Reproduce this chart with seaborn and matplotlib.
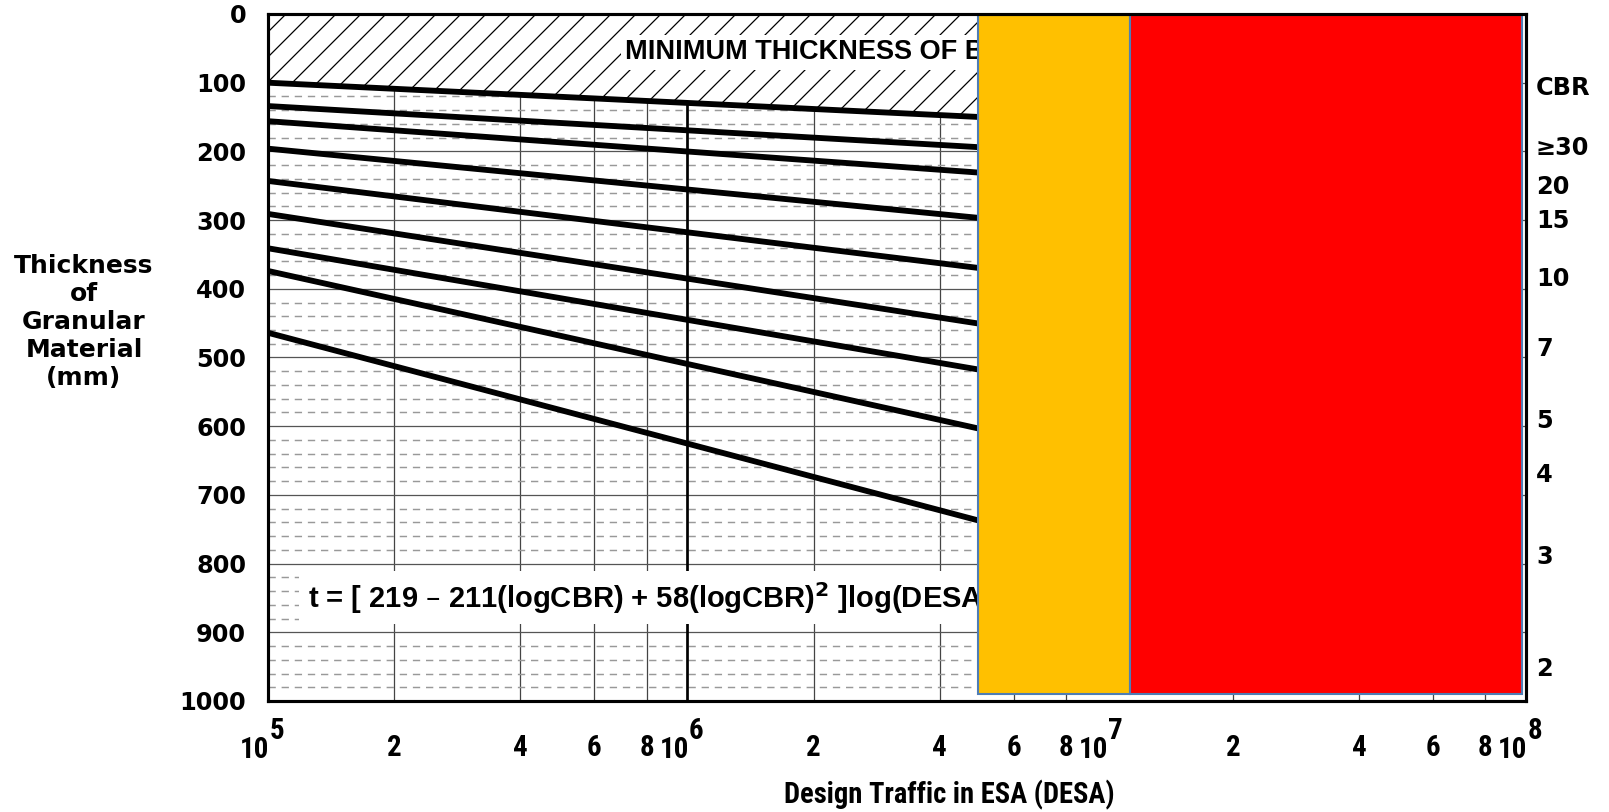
import numpy as np
import pandas as pd
import matplotlib
matplotlib.use("Agg")
import matplotlib.pyplot as plt
import matplotlib.transforms as mtransforms
from matplotlib import font_manager as fm
from matplotlib.ticker import MultipleLocator, FixedLocator, NullFormatter, FixedFormatter
from matplotlib.patches import Rectangle
import seaborn as sns

# ---------------- data ----------------
desa_ends = [1e5, 5e6]                       # DESA at the left edge and at the coloured overlay
cbr_values = ["≥30", "20", "15", "10", "7", "5", "4", "3", "2"]
t_at_start = [100, 134, 156, 196, 243, 291, 341, 374, 464]   # thickness (mm) at DESA = 1e5
t_at_end = [150, 194, 231, 297, 370, 451, 518, 604, 738]      # thickness (mm) at DESA = 5e6
cbr_label_pos = [195, 252, 301, 386, 488, 592, 671, 790, 953]  # right-hand CBR label positions (mm)
cbr_title_pos = 108
y_ticks = list(range(0, 1001, 100))
x_decades = [1e5, 1e6, 1e7, 1e8]
x_decade_exp = ["5", "6", "7", "8"]
x_minor = [2e5, 4e5, 6e5, 8e5, 2e6, 4e6, 6e6, 8e6, 2e7, 4e7, 6e7, 8e7]
x_minor_labels = ["2", "4", "6", "8"] * 3
orange_span = (4.94e6, 1.137e7)
red_span = (1.137e7, 9.76e7)
overlay_y = (2, 990)
min_text_pos = (7.1e5, 56)
eq_text_pos = (1.246e5, 864)

# ---------------- style ----------------
sns.set_theme(style="white")
plt.rcParams["font.family"] = ["Liberation Sans", "DejaVu Sans"]
plt.rcParams["hatch.linewidth"] = 0.6
for key in ["text.color", "axes.labelcolor", "xtick.color", "ytick.color"]:
    plt.rcParams[key] = "black"

# pick a condensed bold face for the x axis texts if one is installed
cond_prop = None
for fam in ["Liberation Sans Narrow", "Roboto Condensed", "Open Sans Condensed", "DejaVu Sans"]:
    try:
        fp = fm.FontProperties(family=fam, weight="bold",
                               stretch="condensed" if fam == "DejaVu Sans" else "normal")
        path = fm.findfont(fp, fallback_to_default=False)
        if fam == "DejaVu Sans" and "Condensed" not in path:
            continue
        cond_prop = fm.FontProperties(fname=path)
        break
    except Exception:
        continue

DPI = 150
fig = plt.figure(figsize=(1609 / DPI, 812 / DPI), dpi=DPI)
L, R, T, B = 268, 1526, 14, 701
ax = fig.add_axes([L / 1609, 1 - B / 812, (R - L) / 1609, (B - T) / 812])
ax.set_xscale("log")

df = pd.DataFrame({
    "DESA": np.concatenate([desa_ends for _ in cbr_values]),
    "t": np.ravel(np.column_stack([t_at_start, t_at_end])),
    "CBR": np.repeat(cbr_values, 2),
})
sns.lineplot(data=df, x="DESA", y="t", units="CBR", estimator=None, color="black",
             linewidth=2.8, ax=ax, legend=False, zorder=4)

# hatched zone above minimum line
top = df[df["CBR"] == cbr_values[0]]
ax.fill_between(top["DESA"], 0, top["t"], facecolor="white", edgecolor="black",
                hatch="//", linewidth=0, zorder=1)

ax.set_xlim(1e5, 1e8)
ax.set_ylim(1000, 0)

# grid
ax.yaxis.set_major_locator(FixedLocator(y_ticks))
ax.yaxis.set_minor_locator(MultipleLocator(20))
ax.grid(which="major", axis="y", color="#555555", lw=0.6, zorder=0.5)
ax.grid(which="minor", axis="y", color="#999999", lw=0.7, ls=(0, (5, 4)), zorder=0.4)
ax.xaxis.set_major_locator(FixedLocator(x_decades))
ax.xaxis.set_minor_locator(FixedLocator(x_minor))
ax.grid(which="minor", axis="x", color="#444444", lw=0.6, zorder=0.5)
ax.axvline(1e6, color="black", lw=1.3, zorder=0.6)
ax.set_axisbelow(True)

# ticks / labels
ax.tick_params(axis="both", which="both", length=0, colors="black")
ax.set_yticks(y_ticks)
ax.set_yticklabels([str(v) for v in y_ticks], family="DejaVu Sans", fontweight="bold", fontsize=11.5)
ax.tick_params(axis="y", pad=10.5)

if cond_prop is not None:
    def xfont(size):
        p = cond_prop.copy()
        p.set_size(size)
        return p
    xsz, xlab_sz, xoff = 13.9, 13.7, 0.004
else:
    def xfont(size):
        return fm.FontProperties(family="Liberation Sans", weight="bold", size=size)
    xsz, xlab_sz, xoff = 12.3, 12.2, 0.006

ax.xaxis.set_major_formatter(NullFormatter())
ax.xaxis.set_minor_formatter(FixedFormatter(x_minor_labels))
ax.tick_params(axis="x", which="minor", pad=16)
for lbl in ax.get_xticklabels(minor=True):
    lbl.set_fontproperties(xfont(xsz))
blend = mtransforms.blended_transform_factory(ax.transData, ax.transAxes)
for xv, ex in zip(x_decades, x_decade_exp):
    xs = xv * 10 ** xoff
    ax.text(xs, (B - 758) / (B - T), "10", transform=blend, ha="right", va="baseline",
            fontproperties=xfont(xsz), clip_on=False)
    ax.text(xs, (B - 739) / (B - T), ex, transform=blend, ha="left", va="baseline",
            fontproperties=xfont(xsz), clip_on=False)

ax.set_xlabel("")
ax.set_ylabel("")
fig.text(949 / 1609, 1 - 795 / 812, "Design Traffic in ESA (DESA)", ha="center", va="center",
         fontproperties=xfont(xlab_sz))
fig.text(84 / 1609, 1 - 322 / 812, "Thickness\nof\nGranular\nMaterial\n(mm)", ha="center",
         va="center", family="DejaVu Sans", fontweight="bold", fontsize=12, linespacing=1.2)

# right CBR labels
yblend = mtransforms.blended_transform_factory(ax.transAxes, ax.transData)
xr = 1 + (1536 - R) / (R - L)
ax.text(xr, cbr_title_pos, "CBR", transform=yblend, ha="left", va="center",
        family="DejaVu Sans", fontweight="bold", fontsize=11.5, clip_on=False)
for lab, pos in zip(cbr_values, cbr_label_pos):
    ax.text(xr, pos, lab, transform=yblend, ha="left", va="center",
            family="DejaVu Sans", fontweight="bold", fontsize=11.5, clip_on=False)

# annotations
ax.text(*min_text_pos, "MINIMUM THICKNESS OF BASE", ha="left", va="center",
        family="Liberation Sans", fontweight="bold", fontsize=13, zorder=5,
        bbox=dict(boxstyle="square,pad=0.15", fc="white", ec="none"))
ax.text(*eq_text_pos, r"t = [ 219 – 211(logCBR) + 58(logCBR)$^{\mathbf{2}}$ ]log(DESA/120)",
        ha="left", va="baseline", family="Liberation Sans", fontweight="bold", fontsize=14,
        zorder=5, bbox=dict(boxstyle="square,pad=0.3", fc="white", ec="none"))

# coloured overlay blocks
edge = "#4f7db5"
ax.add_patch(Rectangle((orange_span[0], overlay_y[0]), orange_span[1] - orange_span[0],
                       overlay_y[1] - overlay_y[0], facecolor="#FFC000", edgecolor=edge,
                       lw=1.0, zorder=8))
ax.add_patch(Rectangle((red_span[0], overlay_y[0]), red_span[1] - red_span[0],
                       overlay_y[1] - overlay_y[0], facecolor="#FF0000", edgecolor=edge,
                       lw=1.0, zorder=8))

for sp in ax.spines.values():
    sp.set_visible(True)
    sp.set_color("black")
    sp.set_linewidth(1.5)
    sp.set_zorder(9)

fig.savefig("out.png", dpi=DPI)
